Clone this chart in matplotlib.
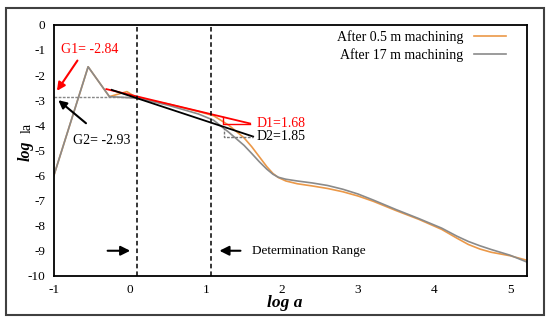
import numpy as np
import matplotlib.pyplot as plt
from matplotlib.patches import Rectangle

plt.rcParams['font.family'] = ['Liberation Serif', 'DejaVu Serif']
plt.rcParams['axes.unicode_minus'] = False

# curve after 0.5 m machining
x_05 = [-1.0, -0.55, -0.27, -0.04, 0.1, 0.5, 0.9, 1.1, 1.3, 1.5, 1.6, 1.7, 1.8, 1.88, 1.95,
        2.05, 2.2, 2.4, 2.6, 2.8, 3.0, 3.2, 3.5, 3.8, 4.1, 4.3, 4.45, 4.6, 4.75, 5.0, 5.22]
y_05 = [-6.0, -1.67, -2.86, -2.66, -2.92, -3.15, -3.45, -3.62, -4.0, -4.5, -4.85, -5.25, -5.65, -5.92, -6.08,
        -6.22, -6.33, -6.42, -6.52, -6.65, -6.82, -7.03, -7.4, -7.75, -8.15, -8.5, -8.75, -8.93, -9.06, -9.2, -9.38]

# curve after 17 m machining
x_17 = [-1.0, -0.55, -0.27, 0.1, 0.5, 0.9, 1.1, 1.3, 1.5, 1.6, 1.7, 1.8, 1.88, 1.95,
        2.05, 2.2, 2.4, 2.6, 2.8, 3.0, 3.2, 3.5, 3.8, 4.1, 4.3, 4.45, 4.6, 4.75, 5.0, 5.22]
y_17 = [-6.0, -1.67, -2.86, -2.92, -3.2, -3.55, -3.8, -4.28, -4.8, -5.12, -5.45, -5.75, -5.95, -6.07,
        -6.15, -6.22, -6.3, -6.4, -6.55, -6.74, -6.98, -7.36, -7.72, -8.1, -8.42, -8.63, -8.8, -8.95, -9.18, -9.45]

# fitted slopes / intercepts
d1_x = [-0.31, 1.58]
d1_y = [-2.56, -3.93]
d1_tri_x = [1.22, 1.22, 1.58]
d1_tri_y = [-3.67, -3.93, -3.93]
d2_x = [-0.24, 1.62]
d2_y = [-2.59, -4.45]
d2_tri_x = [1.24, 1.24, 1.62]
d2_tri_y = [-4.07, -4.45, -4.45]
g_level = -2.87
range_lo, range_hi = 0.09, 1.07

fig = plt.figure(figsize=(5.5, 3.23), dpi=100)
ax = fig.add_axes([0.098, 0.146, 0.860, 0.777])

ax.plot(x_05, y_05, color='#EB9848', lw=1.2, label='After 0.5 m machining')
ax.plot(x_17, y_17, color='#8A8A8A', lw=1.2, label='After 17 m machining')

ax.plot([-1, range_lo], [g_level, g_level], color='#888888', lw=1.0, ls=(0, (2, 1)))
ax.plot(d1_x, d1_y, color='red', lw=1.3)
ax.plot(d1_tri_x, d1_tri_y, color='red', lw=1.0)
ax.plot(d2_x, d2_y, color='black', lw=1.3)
ax.plot(d2_tri_x, d2_tri_y, color='#777777', lw=1.0, ls=(0, (2, 1)))

ax.axvline(range_lo, color='black', lw=1.1, ls=(0, (3, 2)))
ax.axvline(range_hi, color='black', lw=1.1, ls=(0, (3, 2)))

ax.annotate('', xy=(-0.98, -2.72), xytext=(-0.67, -1.33),
            arrowprops=dict(arrowstyle='-|>', color='red', lw=1.5, mutation_scale=12))
ax.annotate('', xy=(-0.97, -2.93), xytext=(-0.55, -3.99),
            arrowprops=dict(arrowstyle='-|>', color='black', lw=1.5, mutation_scale=12))
ax.text(-0.91, -0.97, 'G1= -2.84', color='red', fontsize=10, va='center')
ax.text(-0.75, -4.59, 'G2= -2.93', color='black', fontsize=10, va='center')
ax.text(1.667, -3.92, 'D1=1.68', color='red', fontsize=10, va='center')
ax.text(1.667, -4.46, 'D2=1.85', color='black', fontsize=10, va='center')

ax.annotate('', xy=(0.04, -9), xytext=(-0.33, -9),
            arrowprops=dict(arrowstyle='-|>', color='black', lw=1.5, mutation_scale=14))
ax.annotate('', xy=(1.14, -9), xytext=(1.49, -9),
            arrowprops=dict(arrowstyle='-|>', color='black', lw=1.5, mutation_scale=14))
ax.text(1.60, -9, 'Determination Range', fontsize=9.5, va='center')

ax.set_xlim(-1, 5.22)
ax.set_ylim(-10, 0)
ax.set_xticks(np.arange(-1, 6, 1))
ax.set_yticks(np.arange(-10, 1, 1))
ax.tick_params(length=0, labelsize=9.5)
ax.tick_params(axis='y', pad=6)
ax.tick_params(axis='x', pad=6)
for s in ax.spines.values():
    s.set_linewidth(1.3)

ax.legend(loc='upper right', bbox_to_anchor=(0.983, 1.03), markerfirst=False, frameon=False,
          fontsize=10, handlelength=2.3, labelspacing=0.35)

fig.text(0.518, 0.062, 'log a', fontsize=12.5, fontweight='bold', style='italic',
         ha='center', va='center')
fig.text(0.047, 0.532, 'log', fontsize=11.5, fontweight='bold', style='italic',
         rotation=90, ha='center', va='center')
fig.text(0.049, 0.605, 'la', fontsize=10, rotation=90, ha='center', va='center')

fig.add_artist(Rectangle((0.0104, 0.025), 0.979, 0.949, transform=fig.transFigure,
                         fill=False, edgecolor='#404040', lw=1.5))

plt.savefig('out.png', dpi=100)
